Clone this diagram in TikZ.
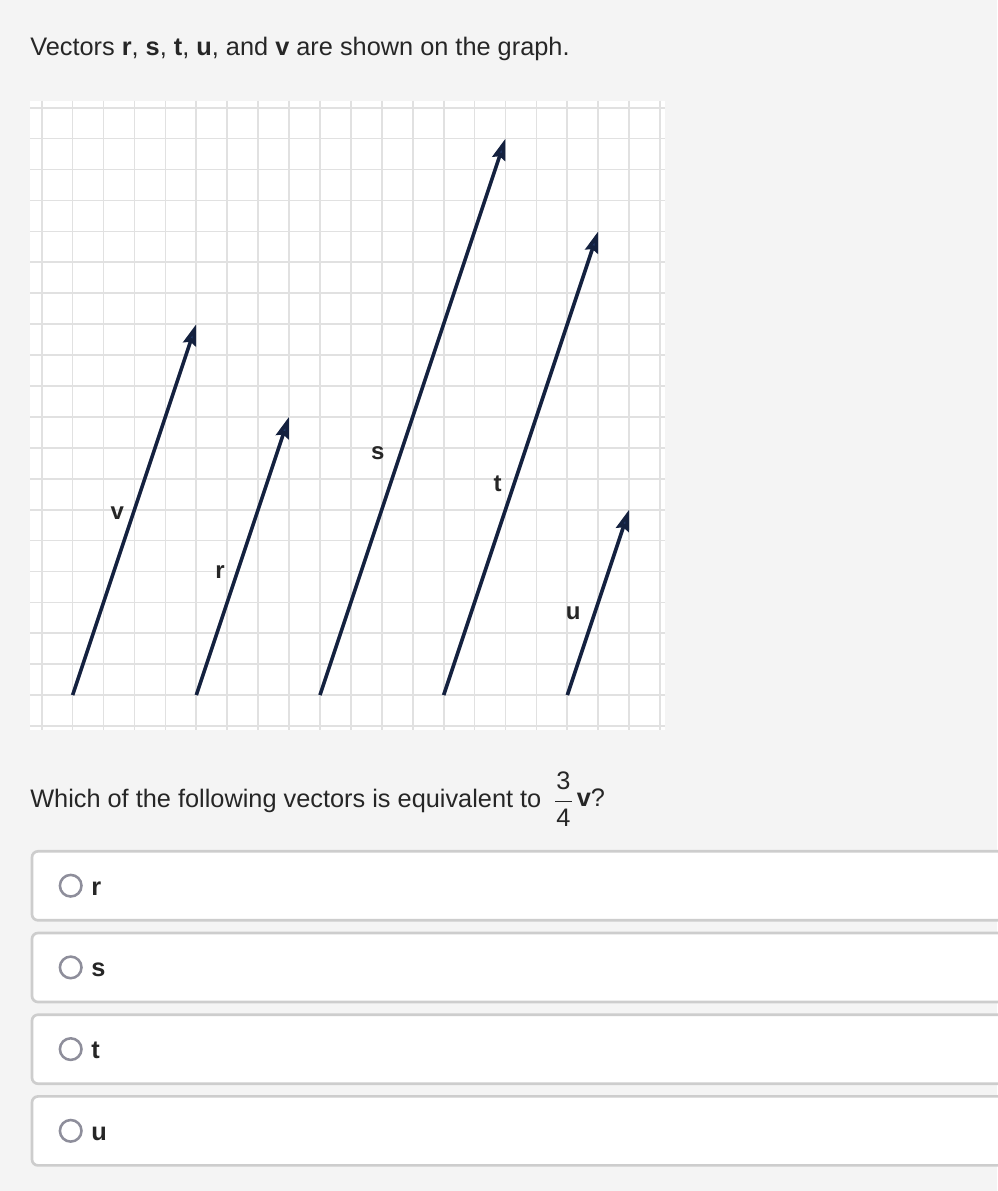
\documentclass[tikz,border=0pt]{standalone}
\usepackage{fontspec}
\setmainfont{Liberation Sans}
\usetikzlibrary{arrows.meta}
\definecolor{bg}{HTML}{F4F4F4}
\definecolor{gridc}{HTML}{E1E1E1}
\definecolor{vecc}{HTML}{14213F}
\definecolor{headc}{HTML}{22396A}
\definecolor{txt}{HTML}{262626}
\definecolor{boxc}{HTML}{CDCDCD}
\definecolor{radioc}{HTML}{8E8E9B}
\begin{document}
\begin{tikzpicture}[x=0.75pt,y=-0.75pt,
  gridline/.style={draw=gridc,line width=1.3pt},
  vec/.style={draw=vecc,line width=2.7pt,-{Stealth[length=16pt,width=10pt,inset=2pt,fill=headc]}},
  veclabel/.style={font=\fontsize{18}{20}\selectfont\bfseries,text=txt,inner sep=0pt},
  bodytext/.style={font=\fontsize{19}{22}\selectfont,text=txt,inner sep=0pt,anchor=base west},
  fracnum/.style={font=\fontsize{19}{22}\selectfont,text=txt,inner sep=0pt},
  opttext/.style={font=\fontsize{19}{22}\selectfont\bfseries,text=txt,inner sep=0pt,anchor=base west},
  optbox/.style={draw=boxc,line width=2pt,fill=white,rounded corners=4.5pt},
  radio/.style={circle,draw=radioc,line width=1.9pt,minimum size=16.2pt,inner sep=0pt}]
\fill[bg] (0,0) rectangle (997,1191);
\useasboundingbox (0,0) rectangle (997,1191);

% title
\node[bodytext] (title) at (30,56) {Vectors \textbf{r}, \textbf{s}, \textbf{t}, \textbf{u}, and \textbf{v} are shown on the graph.};

% graph paper
\fill[white] (30,101) rectangle (665,730);
\foreach \k in {0,...,20} {
  \draw[gridline] ({41.7+30.92*\k},101) -- ({41.7+30.92*\k},730);
  \draw[gridline] (30,{107.7+30.92*\k}) -- (665,{107.7+30.92*\k});
}

\begin{scope}[shift={(41.7,726)},x=23.19pt,y=23.19pt]
  \coordinate (vT) at (1,1);  \coordinate (vH) at (5,13);
  \coordinate (rT) at (5,1);  \coordinate (rH) at (8,10);
  \coordinate (sT) at (9,1);  \coordinate (sH) at (15,19);
  \coordinate (tT) at (13,1); \coordinate (tH) at (18,16);
  \coordinate (uT) at (17,1); \coordinate (uH) at (19,7);
\end{scope}

\draw[vec] (vT) -- (vH);
\draw[vec] (rT) -- (rH);
\draw[vec] (sT) -- (sH);
\draw[vec] (tT) -- (tH);
\draw[vec] (uT) -- (uH);

\node[veclabel] (vL) at (117.3,512.7) {v};
\node[veclabel] (rL) at (220,571.7) {r};
\node[veclabel] (sL) at (377.7,453.3) {s};
\node[veclabel] (tL) at (497.5,484) {t};
\node[veclabel] (uL) at (573.3,613.3) {u};

% question
\node[bodytext] (q) at (30,807) {Which of the following vectors is equivalent to};
\node[fracnum] (n3) at (563.5,781) {3};
\node[fracnum] (n4) at (563.5,818) {4};
\coordinate (barL) at (555,801.5);
\coordinate (barR) at (572,801.5);
\draw[txt,line width=1pt] (barL) -- (barR);
\node[bodytext] (vq) at (576.5,806.5) {\textbf{v}?};

% options
\foreach \y/\l [count=\n] in {851.3/r,933/s,1014.7/t,1096.4/u} {
  \draw[optbox] (32,\y) rectangle (1012,\y+69);
  \node[radio] (radio\n) at (70.7,\y+34.4) {};
  \node[opttext] (opt\n) at (91,\y+43.7) {\l};
}
\end{tikzpicture}
\end{document}
